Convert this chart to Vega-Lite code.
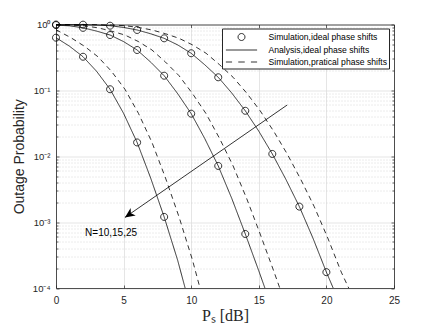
{
  "$schema": "https://vega.github.io/schema/vega-lite/v6.json",
  "width": 338,
  "height": 263.5,
  "autosize": "none",
  "padding": {"left": 56, "top": 24.5, "right": 42, "bottom": 39},
  "background": "white",
  "config": {
    "view": {"stroke": null},
    "font": "Liberation Sans",
    "axis": {"domainColor": "#262626", "tickColor": "#262626", "labelColor": "#262626", "titleColor": "#262626", "domainWidth": 0.8, "tickWidth": 0.7, "labelFont": "Liberation Sans"},
    "legend": {"labelFont": "Liberation Sans"}
  },
  "datasets": {
    "curves": [
      {"N": 10, "kind": "Analysis,ideal phase shifts", "x": 0, "P": 0.631},
      {"N": 10, "kind": "Analysis,ideal phase shifts", "x": 1, "P": 0.468},
      {"N": 10, "kind": "Analysis,ideal phase shifts", "x": 2, "P": 0.324},
      {"N": 10, "kind": "Analysis,ideal phase shifts", "x": 3, "P": 0.195},
      {"N": 10, "kind": "Analysis,ideal phase shifts", "x": 4, "P": 0.104},
      {"N": 10, "kind": "Analysis,ideal phase shifts", "x": 5, "P": 0.0447},
      {"N": 10, "kind": "Analysis,ideal phase shifts", "x": 6, "P": 0.0162},
      {"N": 10, "kind": "Analysis,ideal phase shifts", "x": 7, "P": 0.00468},
      {"N": 10, "kind": "Analysis,ideal phase shifts", "x": 8, "P": 0.0012},
      {"N": 10, "kind": "Analysis,ideal phase shifts", "x": 9, "P": 0.000263},
      {"N": 10, "kind": "Analysis,ideal phase shifts", "x": 9.55, "P": 0.0001},
      {"N": 10, "kind": "Simulation,pratical phase shifts", "x": 0, "P": 0.832},
      {"N": 10, "kind": "Simulation,pratical phase shifts", "x": 1.1, "P": 0.631},
      {"N": 10, "kind": "Simulation,pratical phase shifts", "x": 2.1, "P": 0.468},
      {"N": 10, "kind": "Simulation,pratical phase shifts", "x": 3.1, "P": 0.324},
      {"N": 10, "kind": "Simulation,pratical phase shifts", "x": 4.1, "P": 0.195},
      {"N": 10, "kind": "Simulation,pratical phase shifts", "x": 5.1, "P": 0.104},
      {"N": 10, "kind": "Simulation,pratical phase shifts", "x": 6.1, "P": 0.0447},
      {"N": 10, "kind": "Simulation,pratical phase shifts", "x": 7.1, "P": 0.0162},
      {"N": 10, "kind": "Simulation,pratical phase shifts", "x": 8.1, "P": 0.00468},
      {"N": 10, "kind": "Simulation,pratical phase shifts", "x": 9.1, "P": 0.0012},
      {"N": 10, "kind": "Simulation,pratical phase shifts", "x": 10.1, "P": 0.000263},
      {"N": 10, "kind": "Simulation,pratical phase shifts", "x": 10.65, "P": 0.0001},
      {"N": 15, "kind": "Analysis,ideal phase shifts", "x": 0, "P": 0.977},
      {"N": 15, "kind": "Analysis,ideal phase shifts", "x": 1, "P": 0.955},
      {"N": 15, "kind": "Analysis,ideal phase shifts", "x": 2, "P": 0.891},
      {"N": 15, "kind": "Analysis,ideal phase shifts", "x": 3, "P": 0.794},
      {"N": 15, "kind": "Analysis,ideal phase shifts", "x": 4, "P": 0.692},
      {"N": 15, "kind": "Analysis,ideal phase shifts", "x": 5, "P": 0.55},
      {"N": 15, "kind": "Analysis,ideal phase shifts", "x": 6, "P": 0.41},
      {"N": 15, "kind": "Analysis,ideal phase shifts", "x": 7, "P": 0.269},
      {"N": 15, "kind": "Analysis,ideal phase shifts", "x": 8, "P": 0.167},
      {"N": 15, "kind": "Analysis,ideal phase shifts", "x": 9, "P": 0.0891},
      {"N": 15, "kind": "Analysis,ideal phase shifts", "x": 10, "P": 0.0443},
      {"N": 15, "kind": "Analysis,ideal phase shifts", "x": 11, "P": 0.0186},
      {"N": 15, "kind": "Analysis,ideal phase shifts", "x": 12, "P": 0.00713},
      {"N": 15, "kind": "Analysis,ideal phase shifts", "x": 13, "P": 0.00229},
      {"N": 15, "kind": "Analysis,ideal phase shifts", "x": 14, "P": 0.000661},
      {"N": 15, "kind": "Analysis,ideal phase shifts", "x": 15, "P": 0.000182},
      {"N": 15, "kind": "Analysis,ideal phase shifts", "x": 15.45, "P": 0.0001},
      {"N": 15, "kind": "Simulation,pratical phase shifts", "x": 0, "P": 0.99},
      {"N": 15, "kind": "Simulation,pratical phase shifts", "x": 1.1, "P": 0.977},
      {"N": 15, "kind": "Simulation,pratical phase shifts", "x": 2.1, "P": 0.955},
      {"N": 15, "kind": "Simulation,pratical phase shifts", "x": 3.1, "P": 0.891},
      {"N": 15, "kind": "Simulation,pratical phase shifts", "x": 4.1, "P": 0.794},
      {"N": 15, "kind": "Simulation,pratical phase shifts", "x": 5.1, "P": 0.692},
      {"N": 15, "kind": "Simulation,pratical phase shifts", "x": 6.1, "P": 0.55},
      {"N": 15, "kind": "Simulation,pratical phase shifts", "x": 7.1, "P": 0.41},
      {"N": 15, "kind": "Simulation,pratical phase shifts", "x": 8.1, "P": 0.269},
      {"N": 15, "kind": "Simulation,pratical phase shifts", "x": 9.1, "P": 0.167},
      {"N": 15, "kind": "Simulation,pratical phase shifts", "x": 10.1, "P": 0.0891},
      {"N": 15, "kind": "Simulation,pratical phase shifts", "x": 11.1, "P": 0.0443},
      {"N": 15, "kind": "Simulation,pratical phase shifts", "x": 12.1, "P": 0.0186},
      {"N": 15, "kind": "Simulation,pratical phase shifts", "x": 13.1, "P": 0.00713},
      {"N": 15, "kind": "Simulation,pratical phase shifts", "x": 14.1, "P": 0.00229},
      {"N": 15, "kind": "Simulation,pratical phase shifts", "x": 15.1, "P": 0.000661},
      {"N": 15, "kind": "Simulation,pratical phase shifts", "x": 16.1, "P": 0.000182},
      {"N": 15, "kind": "Simulation,pratical phase shifts", "x": 16.55, "P": 0.0001},
      {"N": 25, "kind": "Analysis,ideal phase shifts", "x": 0, "P": 0.999},
      {"N": 25, "kind": "Analysis,ideal phase shifts", "x": 1, "P": 0.998},
      {"N": 25, "kind": "Analysis,ideal phase shifts", "x": 2, "P": 0.993},
      {"N": 25, "kind": "Analysis,ideal phase shifts", "x": 3, "P": 0.982},
      {"N": 25, "kind": "Analysis,ideal phase shifts", "x": 4, "P": 0.959},
      {"N": 25, "kind": "Analysis,ideal phase shifts", "x": 5, "P": 0.902},
      {"N": 25, "kind": "Analysis,ideal phase shifts", "x": 6, "P": 0.826},
      {"N": 25, "kind": "Analysis,ideal phase shifts", "x": 7, "P": 0.724},
      {"N": 25, "kind": "Analysis,ideal phase shifts", "x": 8, "P": 0.617},
      {"N": 25, "kind": "Analysis,ideal phase shifts", "x": 9, "P": 0.49},
      {"N": 25, "kind": "Analysis,ideal phase shifts", "x": 10, "P": 0.366},
      {"N": 25, "kind": "Analysis,ideal phase shifts", "x": 11, "P": 0.245},
      {"N": 25, "kind": "Analysis,ideal phase shifts", "x": 12, "P": 0.158},
      {"N": 25, "kind": "Analysis,ideal phase shifts", "x": 13, "P": 0.0912},
      {"N": 25, "kind": "Analysis,ideal phase shifts", "x": 14, "P": 0.049},
      {"N": 25, "kind": "Analysis,ideal phase shifts", "x": 15, "P": 0.024},
      {"N": 25, "kind": "Analysis,ideal phase shifts", "x": 16, "P": 0.01084},
      {"N": 25, "kind": "Analysis,ideal phase shifts", "x": 17, "P": 0.00447},
      {"N": 25, "kind": "Analysis,ideal phase shifts", "x": 18, "P": 0.00172},
      {"N": 25, "kind": "Analysis,ideal phase shifts", "x": 19, "P": 0.000575},
      {"N": 25, "kind": "Analysis,ideal phase shifts", "x": 20, "P": 0.000174},
      {"N": 25, "kind": "Analysis,ideal phase shifts", "x": 20.5, "P": 0.0001},
      {"N": 25, "kind": "Simulation,pratical phase shifts", "x": 0, "P": 0.9995},
      {"N": 25, "kind": "Simulation,pratical phase shifts", "x": 1.1, "P": 0.999},
      {"N": 25, "kind": "Simulation,pratical phase shifts", "x": 2.1, "P": 0.998},
      {"N": 25, "kind": "Simulation,pratical phase shifts", "x": 3.1, "P": 0.993},
      {"N": 25, "kind": "Simulation,pratical phase shifts", "x": 4.1, "P": 0.982},
      {"N": 25, "kind": "Simulation,pratical phase shifts", "x": 5.1, "P": 0.959},
      {"N": 25, "kind": "Simulation,pratical phase shifts", "x": 6.1, "P": 0.902},
      {"N": 25, "kind": "Simulation,pratical phase shifts", "x": 7.1, "P": 0.826},
      {"N": 25, "kind": "Simulation,pratical phase shifts", "x": 8.1, "P": 0.724},
      {"N": 25, "kind": "Simulation,pratical phase shifts", "x": 9.1, "P": 0.617},
      {"N": 25, "kind": "Simulation,pratical phase shifts", "x": 10.1, "P": 0.49},
      {"N": 25, "kind": "Simulation,pratical phase shifts", "x": 11.1, "P": 0.366},
      {"N": 25, "kind": "Simulation,pratical phase shifts", "x": 12.1, "P": 0.245},
      {"N": 25, "kind": "Simulation,pratical phase shifts", "x": 13.1, "P": 0.158},
      {"N": 25, "kind": "Simulation,pratical phase shifts", "x": 14.1, "P": 0.0912},
      {"N": 25, "kind": "Simulation,pratical phase shifts", "x": 15.1, "P": 0.049},
      {"N": 25, "kind": "Simulation,pratical phase shifts", "x": 16.1, "P": 0.024},
      {"N": 25, "kind": "Simulation,pratical phase shifts", "x": 17.1, "P": 0.01084},
      {"N": 25, "kind": "Simulation,pratical phase shifts", "x": 18.1, "P": 0.00447},
      {"N": 25, "kind": "Simulation,pratical phase shifts", "x": 19.1, "P": 0.00172},
      {"N": 25, "kind": "Simulation,pratical phase shifts", "x": 20.1, "P": 0.000575},
      {"N": 25, "kind": "Simulation,pratical phase shifts", "x": 21.1, "P": 0.000174},
      {"N": 25, "kind": "Simulation,pratical phase shifts", "x": 21.65, "P": 0.0001},
      {"N": 10, "kind": "Simulation,ideal phase shifts", "x": 0, "P": 0.631},
      {"N": 10, "kind": "Simulation,ideal phase shifts", "x": 2, "P": 0.324},
      {"N": 10, "kind": "Simulation,ideal phase shifts", "x": 4, "P": 0.104},
      {"N": 10, "kind": "Simulation,ideal phase shifts", "x": 6, "P": 0.0162},
      {"N": 10, "kind": "Simulation,ideal phase shifts", "x": 8, "P": 0.0012},
      {"N": 15, "kind": "Simulation,ideal phase shifts", "x": 0, "P": 0.98},
      {"N": 15, "kind": "Simulation,ideal phase shifts", "x": 2, "P": 0.89},
      {"N": 15, "kind": "Simulation,ideal phase shifts", "x": 4, "P": 0.692},
      {"N": 15, "kind": "Simulation,ideal phase shifts", "x": 6, "P": 0.41},
      {"N": 15, "kind": "Simulation,ideal phase shifts", "x": 8, "P": 0.167},
      {"N": 15, "kind": "Simulation,ideal phase shifts", "x": 10, "P": 0.0443},
      {"N": 15, "kind": "Simulation,ideal phase shifts", "x": 12, "P": 0.00713},
      {"N": 15, "kind": "Simulation,ideal phase shifts", "x": 14, "P": 0.000661},
      {"N": 25, "kind": "Simulation,ideal phase shifts", "x": 0, "P": 1.0},
      {"N": 25, "kind": "Simulation,ideal phase shifts", "x": 2, "P": 0.995},
      {"N": 25, "kind": "Simulation,ideal phase shifts", "x": 4, "P": 0.959},
      {"N": 25, "kind": "Simulation,ideal phase shifts", "x": 6, "P": 0.826},
      {"N": 25, "kind": "Simulation,ideal phase shifts", "x": 8, "P": 0.617},
      {"N": 25, "kind": "Simulation,ideal phase shifts", "x": 10, "P": 0.366},
      {"N": 25, "kind": "Simulation,ideal phase shifts", "x": 12, "P": 0.158},
      {"N": 25, "kind": "Simulation,ideal phase shifts", "x": 14, "P": 0.049},
      {"N": 25, "kind": "Simulation,ideal phase shifts", "x": 16, "P": 0.01084},
      {"N": 25, "kind": "Simulation,ideal phase shifts", "x": 18, "P": 0.00172},
      {"N": 25, "kind": "Simulation,ideal phase shifts", "x": 20, "P": 0.000174}
    ],
    "arrow": [
      {"x": 17.1, "P": 0.06, "x2": 5.1, "P2": 0.00118}
    ],
    "note": [
      {"x": 2.15, "P": 0.00069, "label": "N=10,15,25"}
    ]
  },
  "resolve": {"axis": {"x": "independent", "y": "independent"}},
  "layer": [
    {
      "data": {"name": "curves"},
      "transform": [{"filter": "datum.kind != 'Simulation,ideal phase shifts'"}],
      "mark": {"type": "line", "color": "black", "strokeWidth": 0.8},
      "encoding": {
        "x": {
          "field": "x", "type": "quantitative",
          "scale": {"type": "linear", "domain": [0, 25], "nice": false, "zero": false},
          "axis": {
            "orient": "bottom", "values": [0, 5, 10, 15, 20, 25], "grid": true,
            "gridColor": "#dedede", "gridWidth": 0.8, "tickSize": -3,
            "labelFontSize": 10, "labelPadding": 10, "labelFlush": false,
            "title": "Pₛ [dB]", "titleFont": "Liberation Serif", "titleFontSize": 16,
            "titleFontWeight": "normal", "titlePadding": 2
          }
        },
        "y": {
          "field": "P", "type": "quantitative",
          "scale": {"type": "log", "domain": [0.0001, 1], "nice": false},
          "axis": {
            "orient": "left", "values": [0.0001, 0.001, 0.01, 0.1, 1], "grid": true,
            "gridColor": "#dedede", "gridWidth": 0.8, "tickSize": -3,
            "labelFontSize": 9.5, "labelPadding": 9, "labelFlush": false,
            "labelExpr": "['10⁻⁴','10⁻³','10⁻²','10⁻¹','10⁰'][round(log(datum.value)/LN10)+4]",
            "title": "Outage Probability", "titleFontSize": 14, "titleFontWeight": "normal",
            "titlePadding": 6
          }
        },
        "detail": {"field": "N", "type": "nominal"},
        "strokeDash": {
          "field": "kind", "type": "nominal",
          "scale": {"domain": ["Analysis,ideal phase shifts", "Simulation,pratical phase shifts"], "range": [[1, 0], [5, 4]]},
          "legend": null
        }
      }
    },
    {
      "data": {"name": "curves"},
      "transform": [{"filter": "datum.kind == 'Simulation,ideal phase shifts'"}],
      "mark": {"type": "point", "filled": false, "color": "black", "strokeWidth": 0.8, "size": 169, "opacity": 1},
      "encoding": {
        "x": {
          "field": "x", "type": "quantitative",
          "scale": {"type": "linear", "domain": [0, 25], "nice": false, "zero": false},
          "axis": {"orient": "top", "values": [0, 5, 10, 15, 20, 25], "grid": false, "tickSize": -3, "labels": false, "title": null}
        },
        "y": {
          "field": "P", "type": "quantitative",
          "scale": {"type": "log", "domain": [0.0001, 1], "nice": false},
          "axis": {"orient": "right", "values": [0.0001, 0.001, 0.01, 0.1, 1], "grid": false, "tickSize": -3, "labels": false, "title": null}
        },
        "shape": {
          "field": "kind", "type": "nominal",
          "scale": {
            "domain": ["Simulation,ideal phase shifts", "Analysis,ideal phase shifts", "Simulation,pratical phase shifts"],
            "range": [
              "M -0.54 0 A 0.54 0.54 0 1 0 0.54 0 A 0.54 0.54 0 1 0 -0.54 0 Z",
              "M -2.4 0 L 2.4 0",
              "M -2.4 0 L -1.45 0 M -0.5 0 L 0.5 0 M 1.45 0 L 2.4 0"
            ]
          },
          "legend": {
            "title": null, "orient": "none", "legendX": 166, "legendY": 4,
            "symbolSize": 169, "symbolOffset": 11, "symbolStrokeColor": "black", "symbolStrokeWidth": 0.8,
            "symbolFillColor": "transparent", "labelFont": "Liberation Sans", "labelFontSize": 8.6, "labelColor": "black",
            "labelOffset": 20, "padding": 1.5, "rowPadding": 0,
            "strokeColor": "#262626", "fillColor": "white"
          }
        }
      }
    },
    {
      "data": {"name": "arrow"},
      "mark": {"type": "rule", "color": "black", "strokeWidth": 0.8},
      "encoding": {
        "x": {
          "field": "x", "type": "quantitative",
          "scale": {"type": "linear", "domain": [0, 25], "nice": false, "zero": false},
          "axis": null
        },
        "y": {
          "field": "P", "type": "quantitative",
          "scale": {"type": "log", "domain": [0.0001, 1], "nice": false},
          "axis": {
            "orient": "left",
            "values": [0.0002, 0.0003, 0.0004, 0.0005, 0.0006, 0.0007, 0.0008, 0.0009, 0.002, 0.003, 0.004, 0.005, 0.006, 0.007, 0.008, 0.009, 0.02, 0.03, 0.04, 0.05, 0.06, 0.07, 0.08, 0.09, 0.2, 0.3, 0.4, 0.5, 0.6, 0.7, 0.8, 0.9],
            "grid": true, "gridColor": "#cfcfcf", "gridDash": [1, 2], "gridWidth": 0.8,
            "tickSize": -2, "labels": false, "domain": false, "title": null
          }
        },
        "x2": {"field": "x2"},
        "y2": {"field": "P2"}
      }
    },
    {
      "data": {"name": "arrow"},
      "mark": {"type": "point", "shape": "M 0 0 L -0.45 1 L 0 0.72 L 0.45 1 Z", "size": 400, "angle": 235.3, "filled": true, "color": "black", "opacity": 1},
      "encoding": {
        "x": {
          "field": "x2", "type": "quantitative",
          "scale": {"type": "linear", "domain": [0, 25], "nice": false, "zero": false},
          "axis": null
        },
        "y": {
          "field": "P2", "type": "quantitative",
          "scale": {"type": "log", "domain": [0.0001, 1], "nice": false},
          "axis": {
            "orient": "right",
            "values": [0.0002, 0.0003, 0.0004, 0.0005, 0.0006, 0.0007, 0.0008, 0.0009, 0.002, 0.003, 0.004, 0.005, 0.006, 0.007, 0.008, 0.009, 0.02, 0.03, 0.04, 0.05, 0.06, 0.07, 0.08, 0.09, 0.2, 0.3, 0.4, 0.5, 0.6, 0.7, 0.8, 0.9],
            "grid": false, "tickSize": -2, "labels": false, "domain": false, "title": null
          }
        }
      }
    },
    {
      "data": {"name": "note"},
      "mark": {"type": "text", "align": "left", "baseline": "middle", "fontSize": 10, "font": "Liberation Sans", "color": "black"},
      "encoding": {
        "x": {
          "field": "x", "type": "quantitative",
          "scale": {"type": "linear", "domain": [0, 25], "nice": false, "zero": false},
          "axis": null
        },
        "y": {
          "field": "P", "type": "quantitative",
          "scale": {"type": "log", "domain": [0.0001, 1], "nice": false},
          "axis": null
        },
        "text": {"field": "label"}
      }
    }
  ]
}
